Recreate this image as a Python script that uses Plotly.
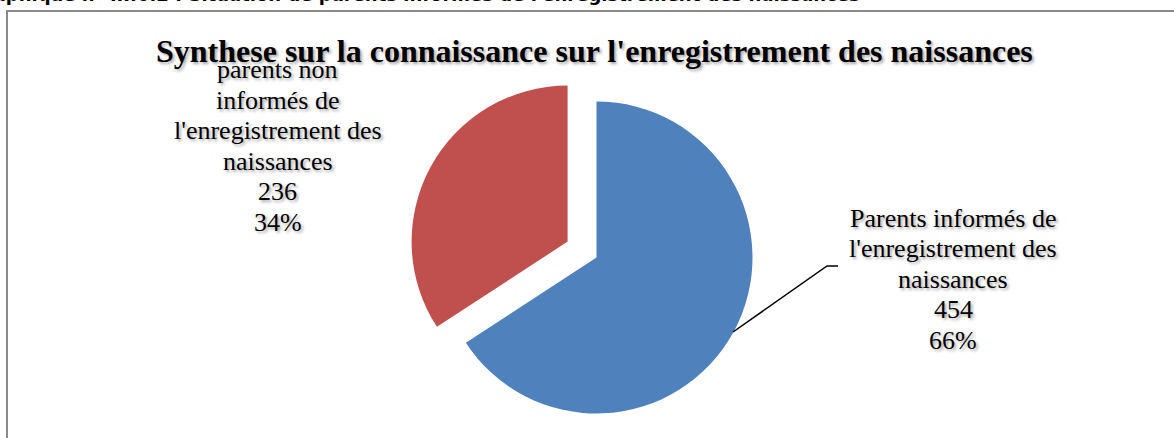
import plotly.graph_objects as go

# ---- data ----
categories = [
    "Parents informés de l'enregistrement des naissances",
    "parents non informés de l'enregistrement des naissances",
]
label_lines = [
    ["Parents informés de", "l'enregistrement des", "naissances"],
    ["parents non", "informés de", "l'enregistrement des", "naissances"],
]
values = [454, 236]
colors = ["#4F81BD", "#C0504D"]
title_text = "Synthese sur la connaissance sur l'enregistrement des naissances"
caption_text = "Graphique n° III.6.2 : Situation de parents informés de l'enregistrement des naissances"

W, H = 1174, 438
total = sum(values)
pcts = [round(100 * v / total) for v in values]


def px(x):
    return x / W


def py(y):
    return 1 - y / H


# pie geometry (pixels)
R = 156
cx, cy = 596.5, 257.5
explode_dx, explode_dy = -28.9, -15.9  # red slice exploded outward

fig = go.Figure()
# main slice (blue), the other slice transparent
fig.add_trace(go.Pie(
    labels=categories, values=values, sort=False, direction="clockwise", rotation=0,
    marker=dict(colors=[colors[0], "rgba(0,0,0,0)"], line=dict(width=0)),
    textinfo="none", hoverinfo="label+value+percent", showlegend=False,
    domain=dict(x=[px(cx - R), px(cx + R)], y=[py(cy + R), py(cy - R)]),
))
# exploded slice (red)
ecx, ecy = cx + explode_dx, cy + explode_dy
fig.add_trace(go.Pie(
    labels=categories, values=values, sort=False, direction="clockwise", rotation=0,
    marker=dict(colors=["rgba(0,0,0,0)", colors[1]], line=dict(width=0)),
    textinfo="none", hoverinfo="label+value+percent", showlegend=False,
    domain=dict(x=[px(ecx - R), px(ecx + R)], y=[py(ecy + R), py(ecy - R)]),
))

shadow = "2px 2px 3px rgba(0,0,0,0.35)"
serif = "Liberation Serif, Times New Roman, serif"
annotations = []

# data labels: one annotation per line
label_fs = 26
spacing = 30.5
label_specs = [
    dict(x=953, last_baseline=349),   # blue
    dict(x=277.5, last_baseline=231),  # red
]
for i, spec in enumerate(label_specs):
    lines = label_lines[i] + [str(values[i]), f"{pcts[i]}%"]
    n = len(lines)
    for k, line in enumerate(lines):
        baseline = spec["last_baseline"] - (n - 1 - k) * spacing
        annotations.append(dict(
            x=px(spec["x"]), y=py(baseline - 0.3375 * label_fs), xref="paper", yref="paper",
            text=line, showarrow=False, xanchor="center", yanchor="middle",
            font=dict(family=serif, size=label_fs, color="black", shadow=shadow),
        ))

# title
annotations.append(dict(
    x=px(594.5), y=py(62 - 0.3375 * 32), xref="paper", yref="paper",
    text=f"<b>{title_text}</b>", showarrow=False, xanchor="center", yanchor="middle",
    font=dict(family=serif, size=32, color="black", shadow=shadow),
))

# clipped caption at the very top
annotations.append(dict(
    x=px(862), y=py(7.5), xref="paper", yref="paper",
    text=f"<b>{caption_text}</b>", showarrow=False, xanchor="right", yanchor="bottom",
    font=dict(family="DejaVu Sans, Verdana, sans-serif", size=18, color="black"),
))

shapes = [
    # chart border
    dict(type="rect", xref="paper", yref="paper", x0=px(7), x1=px(W + 20), y0=py(H + 20), y1=py(11),
         line=dict(color="#8a8a8a", width=2), fillcolor="rgba(0,0,0,0)", layer="below"),
    # leader line for the blue label
    dict(type="path", xref="paper", yref="paper",
         path=f"M {px(733)},{py(332)} L {px(827)},{py(266)} L {px(838)},{py(266)}",
         line=dict(color="black", width=1.5)),
]

fig.update_layout(
    width=W, height=H,
    margin=dict(l=0, r=0, t=0, b=0),
    paper_bgcolor="white", plot_bgcolor="white",
    annotations=annotations, shapes=shapes,
)

fig.write_html(
    "out.html",
    config={"displayModeBar": False},
    post_script="document.body.style.margin='0';document.body.style.overflow='hidden';",
)
